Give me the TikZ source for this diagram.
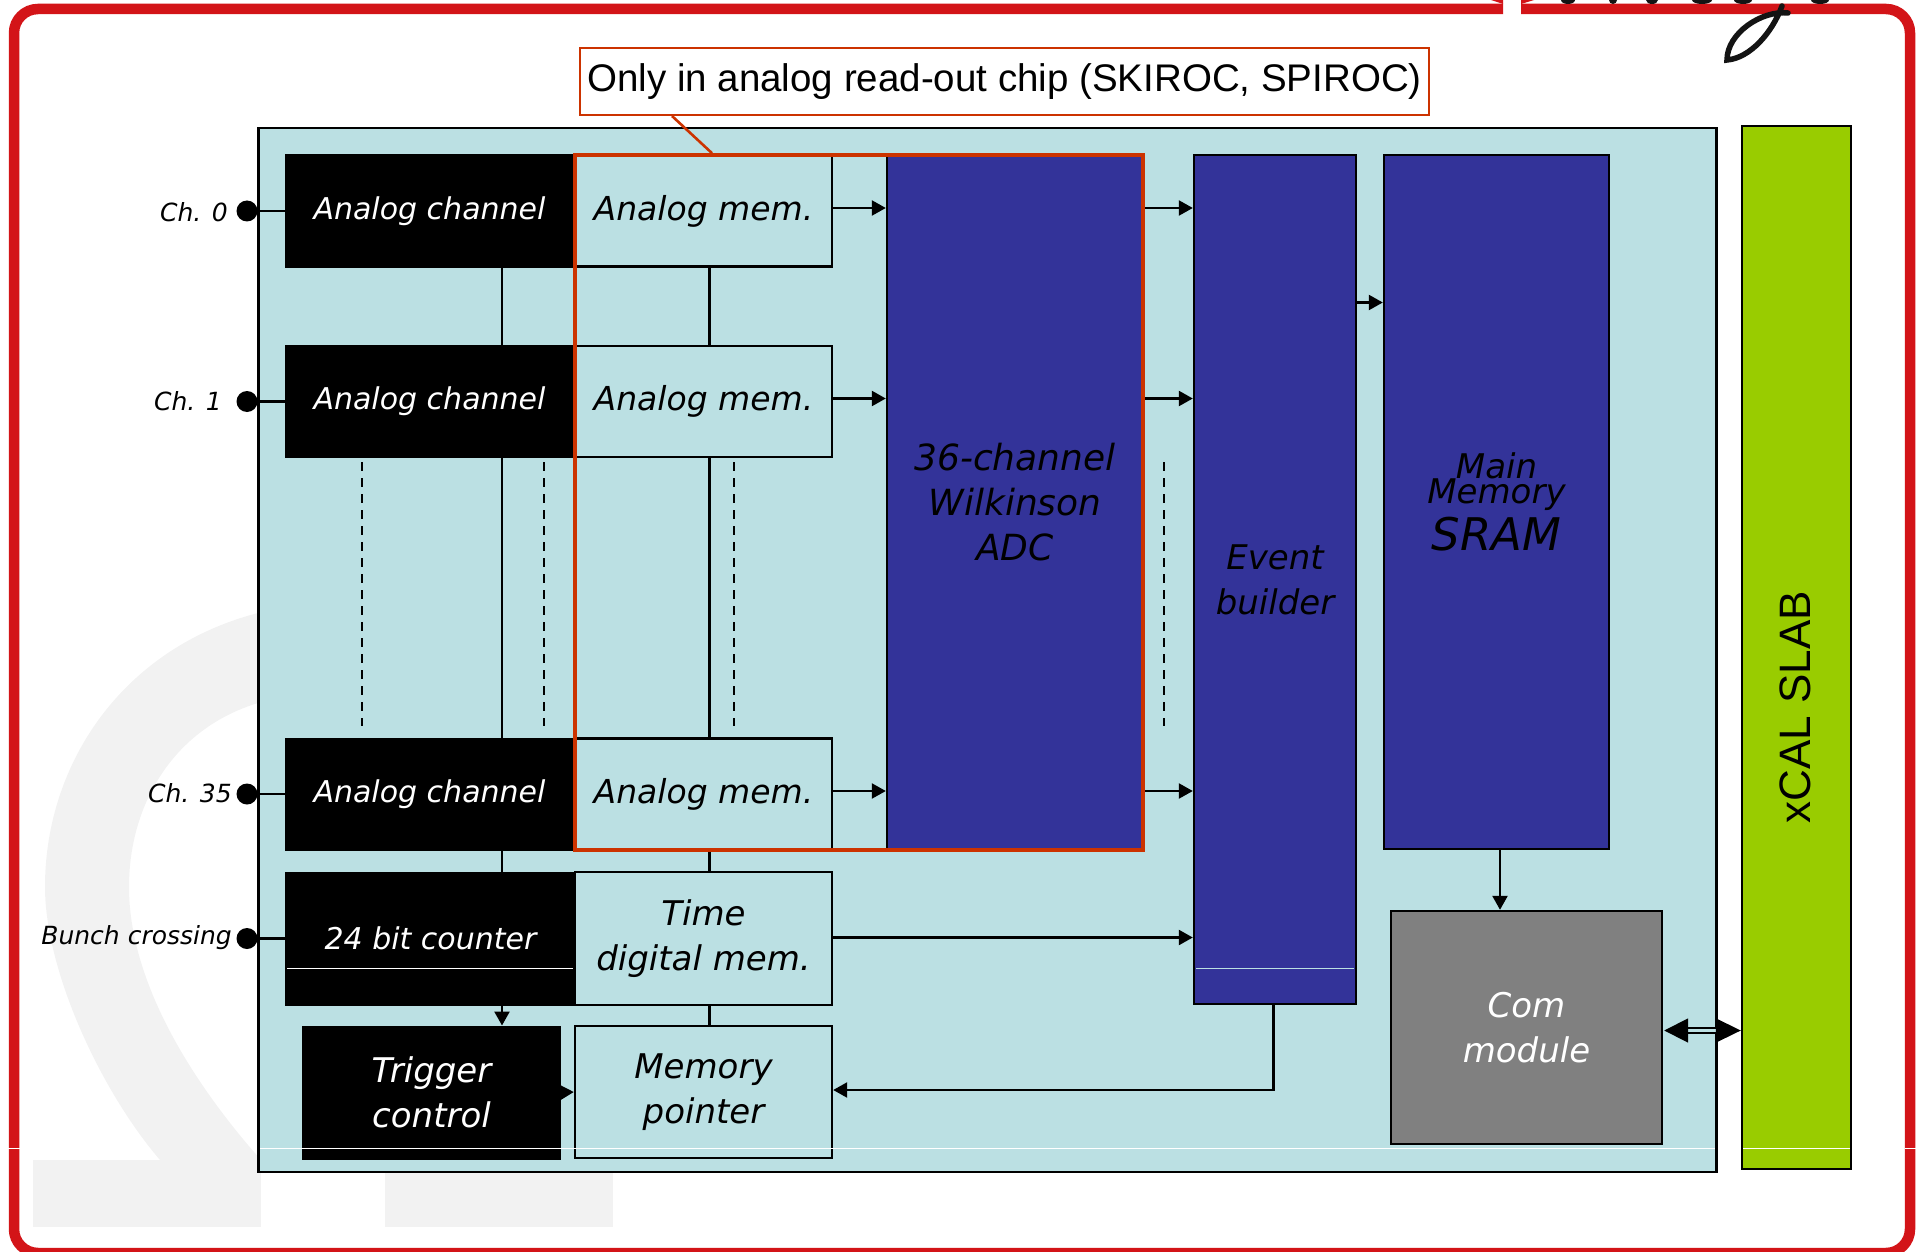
\documentclass[tikz,border=0pt]{standalone}
\usepackage{fontspec}
\setmainfont{DejaVu Sans}
\newfontfamily\arialfont{Liberation Sans}
\usepackage{xcolor}
\usetikzlibrary{positioning, arrows.meta, calc}
\definecolor{panelblue}{HTML}{BBE0E3}
\definecolor{chipblue}{HTML}{333399}
\definecolor{slabgreen}{HTML}{99CC00}
\definecolor{framered}{HTML}{D31418}
\definecolor{calloutred}{HTML}{CC3300}
\definecolor{markgray}{HTML}{F2F2F2}
\tikzset{
    sig/.style={line width=2.4pt, -{Triangle[length=14pt, width=15pt]}},
    wire/.style={line width=2.4pt},
    blackbox/.style={draw=black, fill=black, text=white, line width=1pt, inner sep=0pt, align=center},
    membox/.style={draw=black, fill=panelblue, line width=2.4pt, inner sep=0pt, align=center},
    bluebox/.style={draw=black, fill=chipblue, line width=2.4pt, inner sep=0pt, align=center},
    pin/.style={circle, fill=black, minimum size=21pt, inner sep=0pt},
    pinlabel/.style={anchor=east, inner sep=0pt, font=\fontsize{25}{30}\selectfont\itshape},
    glitch/.style={white, line width=1pt},
}
\begin{document}
\begin{tikzpicture}[x=1pt, y=-1pt]
\useasboundingbox (0,0) rectangle (1917,1252);
\fill[markgray] (33,1160) rectangle (261,1227);
\fill[markgray] (385,1160) rectangle (613,1227);
\fill[markgray] (300,605) .. controls (140,625) and (45,750) .. (45,887)
    .. controls (45,970) and (100,1090) .. (160,1160) -- (261,1160)
    .. controls (190,1080) and (129,980) .. (129,887)
    .. controls (129,790) and (190,705) .. (300,695) -- cycle;
\draw[framered, line width=10.5pt, rounded corners=24pt] (1521,9) -- (1910,9) -- (1910,1253) -- (14,1253) -- (14,9) -- (1503,9);
\fill[framered] (1503,4) -- (1491,0) -- (1503,0) -- cycle;
\fill[framered] (1521,4) -- (1534,0) -- (1521,0) -- cycle;
\draw[black!92, line width=5.5pt, line cap=round] (1788,13) .. controls (1762,10) and (1727,33) .. (1727,60)
    .. controls (1750,58) and (1772,33) .. (1782,6);
\foreach \x/\w in {1568/7,1613/4,1652/6,1702/10,1743/9,1820/9} {
    \fill[black!92] (\x,0) ellipse ({\w pt} and 4pt);
}

\node[draw=black, fill=panelblue, line width=2.4pt, minimum width=1458pt, minimum height=1044pt] (panel) at (987.5,650) {};
\node[draw=black, fill=slabgreen, line width=2.4pt, minimum width=109pt, minimum height=1043pt] (slab) at (1796.5,647.5) {};
\node[rotate=90, inner sep=0pt, font=\fontsize{44}{50}\selectfont\arialfont] (slablabel) at (1795,707) {xCAL SLAB};

\coordinate (busA) at (502,0);
\coordinate (busB) at (709.5,0);
\coordinate (busC) at (1273.5,0);
\coordinate (busD) at (1500,0);

\foreach \n/\y/\lab in {0/211/{Ch. 0},1/401.5/{Ch. 1},35/794/{Ch. 35}} {
    \node[blackbox, minimum width=289pt, minimum height=112pt, font=\fontsize{30}{36}\selectfont\itshape] (ac\n) at (429.5,\y) {Analog channel};
    \node[membox, minimum width=257pt, minimum height=111pt, font=\fontsize{33}{40}\selectfont\itshape] (am\n) at (703.5,\y) {Analog mem.};
    \node[pin] (pin\n) at (247,\y) {};
    \draw[wire] (pin\n) -- (ac\n);
}
\node[pinlabel] (lab0) at (228,212) {Ch. 0};
\node[pinlabel] (lab1) at (222,401) {Ch. 1};
\node[pinlabel] (lab35) at (232,793) {Ch. 35};

\node[blackbox, minimum width=291pt, minimum height=133pt, font=\fontsize{30}{36}\selectfont\itshape] (counter) at (430.5,938.5) {24 bit counter};
\node[membox, minimum width=257pt, minimum height=133pt, font=\fontsize{34}{45}\selectfont\itshape] (timemem) at (703.5,938.5) {Time\\digital mem.};
\node[blackbox, minimum width=258pt, minimum height=133pt, font=\fontsize{34}{45}\selectfont\itshape] (trigger) at (431.5,1092.5) {Trigger\\control};
\node[membox, minimum width=257pt, minimum height=132pt, font=\fontsize{34}{45}\selectfont\itshape] (mempointer) at (703.5,1092) {Memory\\pointer};
\node[pin] (pinbx) at (247,938.5) {};
\node[pinlabel] (labbx) at (232,938) {Bunch crossing};
\draw[wire] (pinbx) -- (counter);

\node[bluebox, minimum width=256pt, minimum height=694pt, font=\fontsize{36}{45}\selectfont\itshape] (adc) at (1015,502) {36-channel\\Wilkinson\\ADC};
\node[bluebox, minimum width=162pt, minimum height=849pt, font=\fontsize{34}{45}\selectfont\itshape] (builder) at (1275,579.5) {Event\\builder};
\node[bluebox, minimum width=225pt, minimum height=694pt, align=center] (sram) at (1496.5,502) {\fontsize{34}{45}\selectfont\itshape Main\\[-0.1em]\fontsize{34}{45}\selectfont\itshape Memory\\[0.5em]\fontsize{45}{54}\selectfont\itshape SRAM};
\node[draw=black, fill=black!50, text=white, line width=2.4pt, minimum width=271pt, minimum height=233pt, align=center, font=\fontsize{34}{45}\selectfont\itshape] (com) at (1526.5,1027.5) {Com\\module};

\draw[wire] (ac0.south -| busA) -- (ac1.north -| busA);
\draw[wire] (ac1.south -| busA) -- (ac35.north -| busA);
\draw[wire] (ac35.south -| busA) -- (counter.north -| busA);
\draw[wire] (am0.south -| busB) -- (am1.north -| busB);
\draw[wire] (am1.south -| busB) -- (am35.north -| busB);
\draw[wire] (am35.south -| busB) -- (timemem.north -| busB);
\draw[wire] (timemem.south -| busB) -- (mempointer.north -| busB);
\draw[sig] (counter.south -| busA) -- (trigger.north -| busA);
\draw[sig] (trigger.east) -- (mempointer.west);
\foreach \n/\y in {0/208,1/398.5,35/791} {
    \coordinate (row\n) at (0,\y);
    \draw[sig] (am\n.east |- row\n) -- (adc.west |- row\n);
    \draw[sig] (adc.east |- row\n) -- (builder.west |- row\n);
}
\coordinate (rowmain) at (0,302.5);
\coordinate (rowtime) at (0,937.5);
\coordinate (rowback) at (0,1090);
\draw[sig] (builder.east |- rowmain) -- (sram.west |- rowmain);
\draw[sig] (timemem.east |- rowtime) -- (builder.west |- rowtime);
\draw[sig] (builder.south -| busC) -- (busC |- rowback) -- (mempointer.east |- rowback);
\draw[sig] (sram.south -| busD) -- (com.north -| busD);
\draw[double=panelblue, double distance=2.6pt, line width=1.8pt, {Triangle[length=24pt, width=24pt]}-{Triangle[length=25pt, width=24pt]}] (com.east) ++(1,3) coordinate (comport) -- (comport -| slab.west);

\foreach \i/\x in {a/361.5,b/543.5,c/733.5,d/1164} {
    \coordinate (dashtop\i) at (\x,462);
    \coordinate (dashend\i) at (\x,726);
    \draw[black, line width=2pt, dash pattern=on 9pt off 7pt] (dashtop\i) -- (dashend\i);
}

\node[draw=calloutred, line width=3.6pt, minimum width=568pt, minimum height=695pt] (analogframe) at (859,502.5) {};
\node[draw=calloutred, fill=white, line width=2pt, minimum width=849pt, minimum height=67pt, inner sep=0pt, font=\fontsize{38.5}{44}\selectfont\arialfont] (callout) at (1004.5,81.5) {Only in analog read-out chip (SKIROC, SPIROC)};
\coordinate (leadtop) at (672,0);
\coordinate (leadend) at (712,0);
\draw[calloutred, line width=2.6pt] (callout.south -| leadtop) -- (analogframe.north -| leadend);

\draw[glitch] (8,1148) -- (20,1148);
\draw[glitch] (260,1148) -- (1715,1148);
\draw[glitch] (1743,1148) -- (1850,1148);
\draw[glitch] (1905,1148) -- (1917,1148);
\draw[glitch] (287,968) -- (573,968);
\draw[glitch, panelblue] (1196,968) -- (1354,968);
\end{tikzpicture}
\end{document}
